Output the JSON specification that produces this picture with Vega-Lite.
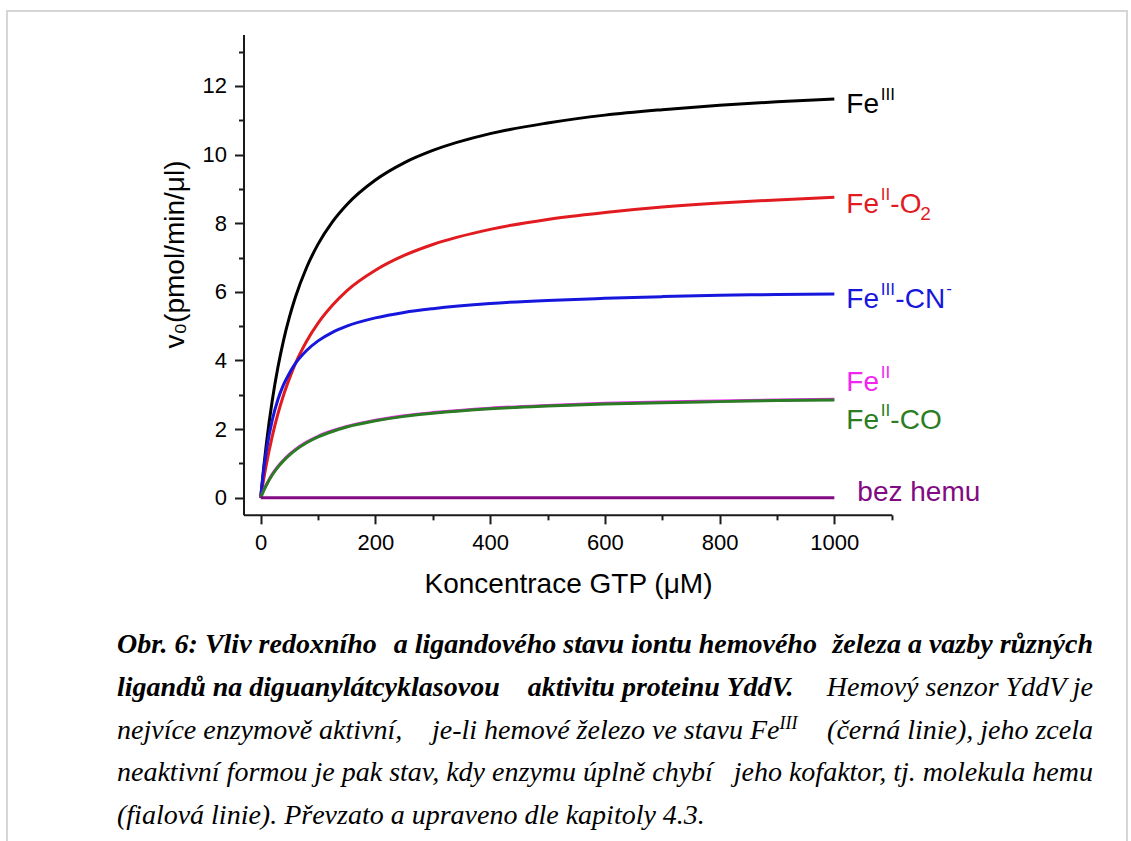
{
  "$schema": "https://vega.github.io/schema/vega-lite/v6.json",
  "width": 1120,
  "height": 832,
  "autosize": {"type": "none"},
  "padding": {"left": 7, "top": 11, "right": 4, "bottom": -2},
  "background": "white",
  "config": {
    "view": {"stroke": "#d6d6d6", "strokeWidth": 2},
    "font": "Liberation Sans",
    "axis": {
      "grid": false,
      "domainColor": "#1a1a1a",
      "domainWidth": 2,
      "tickColor": "#1a1a1a",
      "tickWidth": 2,
      "labelColor": "#000000",
      "titleColor": "#000000",
      "labelFont": "Liberation Sans",
      "titleFont": "Liberation Sans",
      "labelFontSize": 22,
      "titleFontSize": 28,
      "titleFontWeight": "normal"
    }
  },
  "datasets": {
    "curves": [
      {"series": "FeIII", "conc": 0, "v0": 0}, {"series": "FeIII", "conc": 5, "v0": 0.85}, {"series": "FeIII", "conc": 10, "v0": 1.59}, {"series": "FeIII", "conc": 20, "v0": 2.82}, {"series": "FeIII", "conc": 30, "v0": 3.80}, {"series": "FeIII", "conc": 40, "v0": 4.60}, {"series": "FeIII", "conc": 50, "v0": 5.26}, {"series": "FeIII", "conc": 60, "v0": 5.82}, {"series": "FeIII", "conc": 80, "v0": 6.71}, {"series": "FeIII", "conc": 100, "v0": 7.39}, {"series": "FeIII", "conc": 125, "v0": 8.04}, {"series": "FeIII", "conc": 150, "v0": 8.54}, {"series": "FeIII", "conc": 200, "v0": 9.26}, {"series": "FeIII", "conc": 250, "v0": 9.76}, {"series": "FeIII", "conc": 300, "v0": 10.12}, {"series": "FeIII", "conc": 400, "v0": 10.61}, {"series": "FeIII", "conc": 500, "v0": 10.92}, {"series": "FeIII", "conc": 600, "v0": 11.15}, {"series": "FeIII", "conc": 700, "v0": 11.31}, {"series": "FeIII", "conc": 800, "v0": 11.44}, {"series": "FeIII", "conc": 900, "v0": 11.54}, {"series": "FeIII", "conc": 1000, "v0": 11.62},
      {"series": "FeII-O2", "conc": 0, "v0": 0}, {"series": "FeII-O2", "conc": 5, "v0": 0.52}, {"series": "FeII-O2", "conc": 10, "v0": 0.98}, {"series": "FeII-O2", "conc": 20, "v0": 1.78}, {"series": "FeII-O2", "conc": 30, "v0": 2.44}, {"series": "FeII-O2", "conc": 40, "v0": 3.00}, {"series": "FeII-O2", "conc": 50, "v0": 3.47}, {"series": "FeII-O2", "conc": 60, "v0": 3.89}, {"series": "FeII-O2", "conc": 80, "v0": 4.56}, {"series": "FeII-O2", "conc": 100, "v0": 5.09}, {"series": "FeII-O2", "conc": 125, "v0": 5.61}, {"series": "FeII-O2", "conc": 150, "v0": 6.03}, {"series": "FeII-O2", "conc": 200, "v0": 6.63}, {"series": "FeII-O2", "conc": 250, "v0": 7.06}, {"series": "FeII-O2", "conc": 300, "v0": 7.38}, {"series": "FeII-O2", "conc": 400, "v0": 7.82}, {"series": "FeII-O2", "conc": 500, "v0": 8.11}, {"series": "FeII-O2", "conc": 600, "v0": 8.31}, {"series": "FeII-O2", "conc": 700, "v0": 8.47}, {"series": "FeII-O2", "conc": 800, "v0": 8.59}, {"series": "FeII-O2", "conc": 900, "v0": 8.68}, {"series": "FeII-O2", "conc": 1000, "v0": 8.76},
      {"series": "FeIII-CN", "conc": 0, "v0": 0}, {"series": "FeIII-CN", "conc": 5, "v0": 0.78}, {"series": "FeIII-CN", "conc": 10, "v0": 1.38}, {"series": "FeIII-CN", "conc": 20, "v0": 2.25}, {"series": "FeIII-CN", "conc": 30, "v0": 2.86}, {"series": "FeIII-CN", "conc": 40, "v0": 3.30}, {"series": "FeIII-CN", "conc": 50, "v0": 3.63}, {"series": "FeIII-CN", "conc": 60, "v0": 3.90}, {"series": "FeIII-CN", "conc": 80, "v0": 4.29}, {"series": "FeIII-CN", "conc": 100, "v0": 4.57}, {"series": "FeIII-CN", "conc": 125, "v0": 4.82}, {"series": "FeIII-CN", "conc": 150, "v0": 5.00}, {"series": "FeIII-CN", "conc": 200, "v0": 5.24}, {"series": "FeIII-CN", "conc": 250, "v0": 5.40}, {"series": "FeIII-CN", "conc": 300, "v0": 5.51}, {"series": "FeIII-CN", "conc": 400, "v0": 5.66}, {"series": "FeIII-CN", "conc": 500, "v0": 5.75}, {"series": "FeIII-CN", "conc": 600, "v0": 5.81}, {"series": "FeIII-CN", "conc": 700, "v0": 5.86}, {"series": "FeIII-CN", "conc": 800, "v0": 5.90}, {"series": "FeIII-CN", "conc": 900, "v0": 5.92}, {"series": "FeIII-CN", "conc": 1000, "v0": 5.94},
      {"series": "FeII", "conc": 0, "v0": 0}, {"series": "FeII", "conc": 5, "v0": 0.21}, {"series": "FeII", "conc": 10, "v0": 0.38}, {"series": "FeII", "conc": 20, "v0": 0.68}, {"series": "FeII", "conc": 30, "v0": 0.91}, {"series": "FeII", "conc": 40, "v0": 1.10}, {"series": "FeII", "conc": 50, "v0": 1.26}, {"series": "FeII", "conc": 60, "v0": 1.40}, {"series": "FeII", "conc": 80, "v0": 1.62}, {"series": "FeII", "conc": 100, "v0": 1.79}, {"series": "FeII", "conc": 125, "v0": 1.95}, {"series": "FeII", "conc": 150, "v0": 2.08}, {"series": "FeII", "conc": 200, "v0": 2.26}, {"series": "FeII", "conc": 250, "v0": 2.39}, {"series": "FeII", "conc": 300, "v0": 2.48}, {"series": "FeII", "conc": 400, "v0": 2.61}, {"series": "FeII", "conc": 500, "v0": 2.69}, {"series": "FeII", "conc": 600, "v0": 2.75}, {"series": "FeII", "conc": 700, "v0": 2.79}, {"series": "FeII", "conc": 800, "v0": 2.82}, {"series": "FeII", "conc": 900, "v0": 2.85}, {"series": "FeII", "conc": 1000, "v0": 2.87},
      {"series": "FeII-CO", "conc": 0, "v0": 0}, {"series": "FeII-CO", "conc": 5, "v0": 0.20}, {"series": "FeII-CO", "conc": 10, "v0": 0.37}, {"series": "FeII-CO", "conc": 20, "v0": 0.66}, {"series": "FeII-CO", "conc": 30, "v0": 0.89}, {"series": "FeII-CO", "conc": 40, "v0": 1.08}, {"series": "FeII-CO", "conc": 50, "v0": 1.24}, {"series": "FeII-CO", "conc": 60, "v0": 1.38}, {"series": "FeII-CO", "conc": 80, "v0": 1.60}, {"series": "FeII-CO", "conc": 100, "v0": 1.77}, {"series": "FeII-CO", "conc": 125, "v0": 1.93}, {"series": "FeII-CO", "conc": 150, "v0": 2.06}, {"series": "FeII-CO", "conc": 200, "v0": 2.24}, {"series": "FeII-CO", "conc": 250, "v0": 2.37}, {"series": "FeII-CO", "conc": 300, "v0": 2.46}, {"series": "FeII-CO", "conc": 400, "v0": 2.59}, {"series": "FeII-CO", "conc": 500, "v0": 2.67}, {"series": "FeII-CO", "conc": 600, "v0": 2.73}, {"series": "FeII-CO", "conc": 700, "v0": 2.77}, {"series": "FeII-CO", "conc": 800, "v0": 2.80}, {"series": "FeII-CO", "conc": 900, "v0": 2.83}, {"series": "FeII-CO", "conc": 1000, "v0": 2.85},
      {"series": "bez hemu", "conc": 0, "v0": 0}, {"series": "bez hemu", "conc": 1000, "v0": 0}
    ],
    "labels": [
      {"series": "FeIII", "part": "base", "text": "Fe", "conc": 1000, "v0": 11.2},
      {"series": "FeIII", "part": "sup", "text": "III", "conc": 1000, "v0": 11.2},
      {"series": "FeII-O2", "part": "base", "text": "Fe", "conc": 1000, "v0": 8.31},
      {"series": "FeII-O2", "part": "sup", "text": "II", "conc": 1000, "v0": 8.31},
      {"series": "FeII-O2", "part": "tailII", "text": "-O", "conc": 1000, "v0": 8.31},
      {"series": "FeII-O2", "part": "sub", "text": "2", "conc": 1000, "v0": 8.31},
      {"series": "FeIII-CN", "part": "base", "text": "Fe", "conc": 1000, "v0": 5.52},
      {"series": "FeIII-CN", "part": "sup", "text": "III", "conc": 1000, "v0": 5.52},
      {"series": "FeIII-CN", "part": "tailIII", "text": "-CN", "conc": 1000, "v0": 5.52},
      {"series": "FeIII-CN", "part": "supm", "text": "-", "conc": 1000, "v0": 5.52},
      {"series": "FeII", "part": "base", "text": "Fe", "conc": 1000, "v0": 3.12},
      {"series": "FeII", "part": "sup", "text": "II", "conc": 1000, "v0": 3.12},
      {"series": "FeII-CO", "part": "base", "text": "Fe", "conc": 1000, "v0": 2.0},
      {"series": "FeII-CO", "part": "sup", "text": "II", "conc": 1000, "v0": 2.0},
      {"series": "FeII-CO", "part": "tailII", "text": "-CO", "conc": 1000, "v0": 2.0},
      {"series": "bez hemu", "part": "word", "text": "bez hemu", "conc": 1000, "v0": -0.1}
    ],
    "caption": [
      {"line": 1, "side": "start", "kind": "title", "seg": "a", "text": "Obr. 6: Vliv redoxního"},
      {"line": 1, "side": "start", "kind": "title", "seg": "m", "text": "a ligandového stavu iontu hemového"},
      {"line": 1, "side": "end", "kind": "title", "seg": "b", "text": "železa a vazby různých"},
      {"line": 2, "side": "start", "kind": "title", "seg": "a", "text": "ligandů na diguanylátcyklasovou"},
      {"line": 2, "side": "start", "kind": "title", "seg": "m", "text": "aktivitu proteinu YddV."},
      {"line": 2, "side": "end", "kind": "body", "seg": "b", "text": "Hemový senzor YddV je"},
      {"line": 3, "side": "start", "kind": "body", "seg": "a", "text": "nejvíce enzymově aktivní,"},
      {"line": 3, "side": "end", "kind": "body", "seg": "m", "text": "je-li hemové železo ve stavu Fe"},
      {"line": 3, "side": "end", "kind": "sup", "seg": "m", "text": "III"},
      {"line": 3, "side": "end", "kind": "body", "seg": "b", "text": "(černá linie), jeho zcela"},
      {"line": 4, "side": "start", "kind": "body", "seg": "a", "text": "neaktivní formou je pak stav, kdy enzymu úplně chybí"},
      {"line": 4, "side": "end", "kind": "body", "seg": "b", "text": "jeho kofaktor, tj. molekula hemu"},
      {"line": 5, "side": "start", "kind": "body", "seg": "a", "text": "(fialová linie). Převzato a upraveno dle kapitoly 4.3."}
    ]
  },
  "layer": [
    {
      "layer": [
        {
          "data": {"name": "curves"},
          "mark": {"type": "line", "interpolate": "monotone", "strokeWidth": 3},
          "encoding": {
            "x": {
              "field": "conc", "type": "quantitative",
              "scale": {"domain": [-30, 1100], "range": [236.5, 884.7], "nice": false, "zero": false},
              "axis": {
                "orient": "bottom", "offset": -328.15,
                "values": [0, 100, 200, 300, 400, 500, 600, 700, 800, 900, 1000, 1100],
                "labelExpr": "datum.value % 200 === 0 ? datum.label : ''",
                "tickSize": {"condition": {"test": "datum.value % 200 === 0", "value": 9}, "value": 5},
                "labelPadding": 9, "labelFlush": false, "labelOverlap": false, "format": "d",
                "title": "Koncentrace GTP (μM)", "titleX": 561, "titleY": 78,
                "titleAlign": "center", "titleBaseline": "alphabetic"
              }
            },
            "y": {
              "field": "v0", "type": "quantitative",
              "scale": {"domain": [-0.5, 13.5], "range": [503.85, 23.5], "nice": false, "zero": false},
              "axis": {
                "orient": "left", "offset": -236.5,
                "values": [0, 1, 2, 3, 4, 5, 6, 7, 8, 9, 10, 11, 12, 13],
                "labelExpr": "datum.value % 2 === 0 ? datum.label : ''",
                "tickSize": {"condition": {"test": "datum.value % 2 === 0", "value": 9}, "value": 5},
                "labelPadding": 8, "labelFlush": false, "labelOverlap": false, "format": "d",
                "title": "v₀(pmol/min/μl)", "titleX": -68.5, "titleY": 243,
                "titleAngle": 270, "titleAlign": "center", "titleBaseline": "middle"
              }
            },
            "color": {
              "field": "series", "type": "nominal", "legend": null,
              "scale": {
                "domain": ["FeIII", "FeII-O2", "FeIII-CN", "FeII", "FeII-CO", "bez hemu"],
                "range": ["#000000", "#e11b1f", "#1616dc", "#f026f0", "#2a7d22", "#820a82"]
              }
            },
            "strokeWidth": {"condition": {"test": "datum.series === 'bez hemu'", "value": 4}, "value": 3}
          }
        },
        {
          "data": {"name": "labels"},
          "encoding": {
            "x": {"field": "conc", "type": "quantitative"},
            "y": {"field": "v0", "type": "quantitative"},
            "color": {"field": "series", "type": "nominal", "legend": null},
            "text": {"field": "text"}
          },
          "layer": [
            {"transform": [{"filter": "datum.part === 'base'"}], "mark": {"type": "text", "align": "left", "baseline": "alphabetic", "fontSize": 28, "dx": 12}},
            {"transform": [{"filter": "datum.part === 'word'"}], "mark": {"type": "text", "align": "left", "baseline": "alphabetic", "fontSize": 28, "dx": 23}},
            {"transform": [{"filter": "datum.part === 'sup'"}], "mark": {"type": "text", "align": "left", "baseline": "alphabetic", "fontSize": 17, "dx": 46.5, "dy": -13}},
            {"transform": [{"filter": "datum.part === 'tailII'"}], "mark": {"type": "text", "align": "left", "baseline": "alphabetic", "fontSize": 28, "dx": 56}},
            {"transform": [{"filter": "datum.part === 'tailIII'"}], "mark": {"type": "text", "align": "left", "baseline": "alphabetic", "fontSize": 28, "dx": 61}},
            {"transform": [{"filter": "datum.part === 'sub'"}], "mark": {"type": "text", "align": "left", "baseline": "alphabetic", "fontSize": 19, "dx": 86, "dy": 7}},
            {"transform": [{"filter": "datum.part === 'supm'"}], "mark": {"type": "text", "align": "left", "baseline": "alphabetic", "fontSize": 17, "dx": 112, "dy": -14}}
          ]
        }
      ]
    },
    {
      "data": {"name": "caption"},
      "encoding": {
        "x": {"field": "side", "type": "nominal", "scale": {"type": "point", "domain": ["start", "end"], "range": [110, 1086], "padding": 0}, "axis": null},
        "y": {"field": "line", "type": "quantitative", "scale": {"domain": [1, 5], "range": [642, 813], "nice": false, "zero": false}, "axis": null},
        "text": {"field": "text"}
      },
      "layer": [
        {"transform": [{"filter": "datum.kind === 'title' && datum.seg === 'a'"}], "mark": {"type": "text", "align": "left", "baseline": "alphabetic", "font": "Liberation Serif", "fontStyle": "italic", "fontWeight": "bold", "fontSize": 28, "color": "#000000"}},
        {"transform": [{"filter": "datum.kind === 'title' && datum.seg === 'b'"}], "mark": {"type": "text", "align": "right", "baseline": "alphabetic", "font": "Liberation Serif", "fontStyle": "italic", "fontWeight": "bold", "fontSize": 28, "color": "#000000"}},
        {"transform": [{"filter": "datum.kind === 'title' && datum.seg === 'm' && datum.line === 1"}], "mark": {"type": "text", "align": "left", "baseline": "alphabetic", "font": "Liberation Serif", "fontStyle": "italic", "fontWeight": "bold", "fontSize": 28, "color": "#000000", "dx": 276.8}},
        {"transform": [{"filter": "datum.kind === 'title' && datum.seg === 'm' && datum.line === 2"}], "mark": {"type": "text", "align": "left", "baseline": "alphabetic", "font": "Liberation Serif", "fontStyle": "italic", "fontWeight": "bold", "fontSize": 28, "color": "#000000", "dx": 410.8}},
        {"transform": [{"filter": "datum.kind === 'body' && datum.seg === 'a'"}], "mark": {"type": "text", "align": "left", "baseline": "alphabetic", "font": "Liberation Serif", "fontStyle": "italic", "fontSize": 28, "color": "#000000"}},
        {"transform": [{"filter": "datum.kind === 'body' && datum.seg === 'b'"}], "mark": {"type": "text", "align": "right", "baseline": "alphabetic", "font": "Liberation Serif", "fontStyle": "italic", "fontSize": 28, "color": "#000000"}},
        {"transform": [{"filter": "datum.kind === 'body' && datum.seg === 'm'"}], "mark": {"type": "text", "align": "right", "baseline": "alphabetic", "font": "Liberation Serif", "fontStyle": "italic", "fontSize": 28, "color": "#000000", "dx": -313.5}},
        {"transform": [{"filter": "datum.kind === 'sup'"}], "mark": {"type": "text", "align": "right", "baseline": "alphabetic", "font": "Liberation Serif", "fontStyle": "italic", "fontSize": 18, "color": "#000000", "dx": -295.5, "dy": -10}}
      ]
    }
  ],
  "resolve": {"scale": {"x": "independent", "y": "independent"}}
}
